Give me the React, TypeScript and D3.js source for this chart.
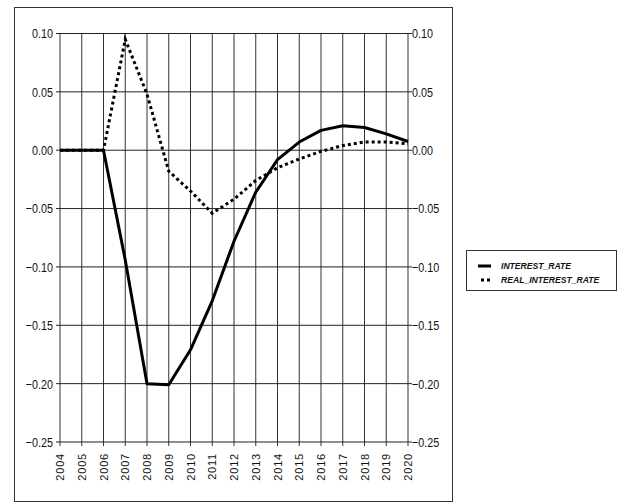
import React from "react";
import * as d3 from "d3";

// Annual series, 2004–2020
const years: number[] = [2004, 2005, 2006, 2007, 2008, 2009, 2010, 2011, 2012, 2013, 2014, 2015, 2016, 2017, 2018, 2019, 2020];
const interestRate: number[] = [0, 0, 0, -0.094, -0.2, -0.201, -0.171, -0.129, -0.078, -0.036, -0.008, 0.007, 0.017, 0.021, 0.0195, 0.014, 0.0075];
const realInterestRate: number[] = [0, 0, 0, 0.095, 0.048, -0.018, -0.035, -0.054, -0.042, -0.026, -0.015, -0.0075, -0.001, 0.004, 0.007, 0.007, 0.0055];
const yTicks: number[] = [0.1, 0.05, 0, -0.05, -0.1, -0.15, -0.2, -0.25];
const seriesNames: string[] = ["INTEREST_RATE", "REAL_INTEREST_RATE"];

const W = 622;
const H = 503;
const plot = { left: 60, right: 408, top: 33.5, bottom: 442 };

const sans = "'Liberation Sans', Arial, sans-serif";

export default function App() {
  const x = d3.scaleLinear().domain([2004, 2020]).range([plot.left, plot.right]);
  const y = d3.scaleLinear().domain([-0.25, 0.1]).range([plot.bottom, plot.top]);

  const line = d3
    .line<number>()
    .x((_, i) => x(years[i]))
    .y((d) => y(d));

  const fmt = d3.format(".2f");

  return (
    <svg
      width={W}
      height={H}
      style={{ position: "absolute", left: 0, top: 0, background: "#fff" }}
    >
      <rect x={0} y={0} width={W} height={H} fill="#fff" />
      {/* chart frame */}
      <rect x={14.5} y={7.5} width={438} height={494} fill="none" stroke="#333" strokeWidth={1} />

      {/* vertical grid + bottom ticks */}
      {years.map((yr) => (
        <line
          key={"v" + yr}
          x1={x(yr)}
          x2={x(yr)}
          y1={plot.top}
          y2={plot.bottom + 4}
          stroke="#333"
          strokeWidth={1}
        />
      ))}
      {/* horizontal grid + side ticks */}
      {yTicks.map((t) => (
        <line
          key={"h" + t}
          x1={plot.left - 4}
          x2={plot.right + 4}
          y1={y(t)}
          y2={y(t)}
          stroke="#222"
          strokeWidth={1}
        />
      ))}

      {/* y labels, both sides, condensed */}
      {yTicks.map((t) => (
        <g key={"l" + t} fontFamily={sans} fontSize={13.5} fill="#111">
          <text
            transform={`translate(${plot.left - 7},${y(t)}) scale(0.8,1)`}
            dy="0.36em"
            textAnchor="end"
          >
            {fmt(t)}
          </text>
          <text
            transform={`translate(${plot.right + 4},${y(t)}) scale(0.8,1)`}
            dy="0.36em"
            textAnchor="start"
          >
            {fmt(t)}
          </text>
        </g>
      ))}

      {/* x labels, rotated */}
      {years.map((yr) => (
        <text
          key={"x" + yr}
          transform={`translate(${x(yr) + 4},${plot.bottom + 11}) rotate(-90)`}
          textAnchor="end"
          fontFamily={sans}
          fontSize={11}
          letterSpacing={0.8}
          fill="#111"
        >
          {yr}
        </text>
      ))}

      {/* series */}
      <path d={line(interestRate) ?? ""} fill="none" stroke="#000" strokeWidth={3} strokeLinejoin="round" />
      <path
        d={line(realInterestRate) ?? ""}
        fill="none"
        stroke="#000"
        strokeWidth={3}
        strokeDasharray="3 3"
      />

      {/* legend */}
      <rect x={466.5} y={250.5} width={150} height={40} fill="#fff" stroke="#333" strokeWidth={1} />
      <line x1={478} x2={491} y1={266} y2={266} stroke="#000" strokeWidth={3} />
      <line x1={481} x2={491} y1={280} y2={280} stroke="#000" strokeWidth={3} strokeDasharray="3 3" />
      <text x={501} y={266} dy="0.36em" fontFamily={sans} fontSize={8.6} fontWeight="bold" fontStyle="italic" fill="#111">
        {seriesNames[0]}
      </text>
      <text x={501} y={280} dy="0.36em" fontFamily={sans} fontSize={8.6} fontWeight="bold" fontStyle="italic" fill="#111">
        {seriesNames[1]}
      </text>
    </svg>
  );
}
